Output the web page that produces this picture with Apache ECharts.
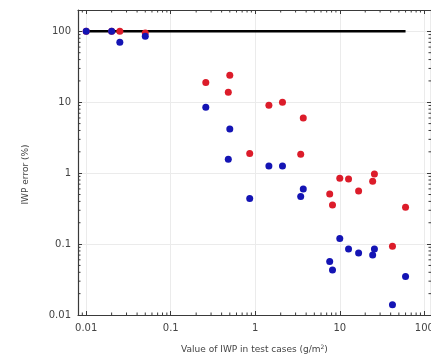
<!DOCTYPE html>
<html>
<head>
<meta charset="utf-8">
<script src="https://cdn.jsdelivr.net/npm/echarts@6/dist/echarts.min.js"></script>
<style>
  html, body { margin: 0; padding: 0; background: #fff; }
  #chart { width: 431px; height: 357px; }
</style>
</head>
<body>
<div id="chart"></div>
<script>
// IWP values of the test cases (g/m^2)
const caseIWP = [0.01, 0.02, 0.025, 0.05, 0.26, 0.48, 0.5, 0.86, 1.45, 2.1, 3.45, 3.7, 7.6, 8.2, 10, 12.7, 16.7, 24.5, 25.7, 42, 60];
// IWP error (%) for the two retrieval variants
const errorRed  = [100, 100, 100, 95, 19, 13.8, 24, 1.9, 9.1, 10, 1.85, 6.0, 0.51, 0.355, 0.85, 0.83, 0.56, 0.77, 0.97, 0.093, 0.33];
const errorBlue = [100, 100, 70, 85, 8.5, 1.57, 4.2, 0.44, 1.26, 1.26, 0.47, 0.6, 0.057, 0.043, 0.12, 0.085, 0.075, 0.07, 0.085, 0.014, 0.035];
// 100 % reference level, spanning the tested IWP range
const refLineX = [0.01, 60];
const refLineY = [100, 100];

// Axis limits and decade ticks
const xLimits = [0.008, 120];
const yLimits = [0.01, 200];
const xDecades = [0.01, 0.1, 1, 10, 100];
const yDecades = [0.01, 0.1, 1, 10, 100];
const minorSteps = [2, 3, 4, 5, 6, 7, 8, 9];

const toPairs = (xs, ys) => xs.map((x, i) => [x, ys[i]]);
const isDecade = (v, list) => list.some(d => Math.abs(v / d - 1) < 1e-6);

// Minor tick positions (2..9 within each decade), clipped to the axis limits
const minorTicks = [];
[0.001].concat(xDecades).forEach(d => minorSteps.forEach(m => {
  const v = d * m;
  if (v > xLimits[0] && v < xLimits[1]) minorTicks.push(['x', v]);
}));
yDecades.forEach(d => minorSteps.forEach(m => {
  const v = d * m;
  if (v > yLimits[0] && v < yLimits[1]) minorTicks.push(['y', v]);
}));

const FONT = 'DejaVu Sans';
const axisColor = '#3a3a3a';

function baseX(position, showLabels) {
  return {
    type: 'log', logBase: 10, position: position,
    min: xLimits[0], max: xLimits[1],
    axisLine: { show: true, lineStyle: { color: axisColor, width: 1.2 } },
    axisTick: { show: true, inside: true, length: 4, lineStyle: { color: axisColor } },
    axisLabel: {
      show: showLabels, margin: 8, fontFamily: FONT, fontSize: 10, color: '#444',
      showMinLabel: false, showMaxLabel: false, hideOverlap: false,
      formatter: v => isDecade(v, xDecades) ? String(v) : ''
    },
    splitLine: { show: showLabels, lineStyle: { color: '#ebebeb', width: 1 } }
  };
}
function baseY(position, showLabels) {
  return {
    type: 'log', logBase: 10, position: position,
    min: yLimits[0], max: yLimits[1],
    axisLine: { show: true, lineStyle: { color: axisColor, width: 1.2 } },
    axisTick: { show: true, inside: true, length: 4, lineStyle: { color: axisColor } },
    axisLabel: {
      show: showLabels, margin: 7, fontFamily: FONT, fontSize: 10, color: '#444',
      showMaxLabel: false,
      formatter: v => isDecade(v, yDecades) ? String(v) : ''
    },
    splitLine: { show: showLabels, lineStyle: { color: '#ebebeb', width: 1 } }
  };
}

const xMain = baseX('bottom', true);
xMain.name = 'Value of IWP in test cases (g/m{sup|2})';
xMain.nameLocation = 'middle';
xMain.nameGap = 29;
xMain.nameTextStyle = {
  fontFamily: FONT, fontSize: 9, color: '#444',
  rich: { sup: { fontFamily: FONT, fontSize: 6, color: '#444', verticalAlign: 'top', padding: [0, 0, 5, 0] } }
};
const yMain = baseY('left', true);
yMain.name = 'IWP error (%)';
yMain.nameLocation = 'middle';
yMain.nameGap = 48;
yMain.nameTextStyle = { fontFamily: FONT, fontSize: 9, color: '#444', padding: [0, 24, 0, 0] };

const chart = echarts.init(document.getElementById('chart'), null, { renderer: 'canvas' });
chart.setOption({
  animation: false,
  backgroundColor: '#fff',
  grid: { left: 78, right: 0, top: 10, bottom: 42, containLabel: false, outerBoundsMode: 'none' },
  xAxis: [xMain, baseX('top', false)],
  yAxis: [yMain, baseY('right', false)],
  series: [
    {
      // short minor tick marks on all four sides of the frame
      type: 'custom', silent: true, z: 1,
      data: minorTicks,
      encode: { x: -1, y: -1 },
      clip: false,
      renderItem: function (params, api) {
        const axis = minorTicks[params.dataIndex][0];
        const v = minorTicks[params.dataIndex][1];
        const style = { stroke: axisColor, lineWidth: 1 };
        const L = 2.5;
        if (axis === 'x') {
          const b = api.coord([v, yLimits[0]]);
          const t = api.coord([v, yLimits[1]]);
          return { type: 'group', children: [
            { type: 'line', shape: { x1: b[0], y1: b[1], x2: b[0], y2: b[1] - L }, style: style },
            { type: 'line', shape: { x1: t[0], y1: t[1], x2: t[0], y2: t[1] + L }, style: style }
          ] };
        }
        const l = api.coord([xLimits[0], v]);
        const r = api.coord([xLimits[1], v]);
        return { type: 'group', children: [
          { type: 'line', shape: { x1: l[0], y1: l[1], x2: l[0] + L, y2: l[1] }, style: style },
          { type: 'line', shape: { x1: r[0], y1: r[1], x2: r[0] - L, y2: r[1] }, style: style }
        ] };
      }
    },
    {
      type: 'line', z: 2,
      data: toPairs(refLineX, refLineY),
      symbol: 'none',
      lineStyle: { color: '#000', width: 2.5 }
    },
    {
      type: 'scatter', z: 3,
      data: toPairs(caseIWP, errorRed),
      symbol: 'circle', symbolSize: 7,
      itemStyle: { color: '#dc1c2a', opacity: 1 }
    },
    {
      type: 'scatter', z: 4,
      data: toPairs(caseIWP, errorBlue),
      symbol: 'circle', symbolSize: 7,
      itemStyle: { color: '#1414b4', opacity: 1 }
    }
  ]
});
</script>
</body>
</html>
